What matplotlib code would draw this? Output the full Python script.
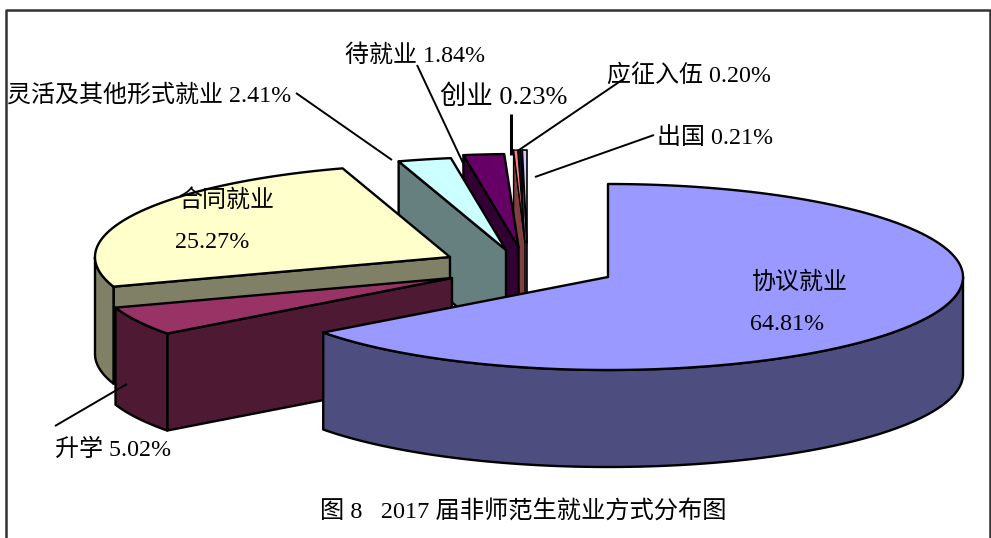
import numpy as np
import matplotlib
matplotlib.use('Agg')
import matplotlib.pyplot as plt
from matplotlib.patches import Polygon

FONT = ['Liberation Serif', 'Noto Sans CJK SC']
plt.rcParams['font.family'] = FONT

# data, clockwise from 12 o'clock
categories = ['协议就业', '升学', '合同就业', '灵活及其他形式就业', '待就业', '创业', '应征入伍', '出国']
shares = [64.81, 5.02, 25.27, 2.41, 1.84, 0.23, 0.20, 0.21]

# colours and where each exploded slice sits (figure pixels)
top_colors = ['#9999ff', '#993366', '#ffffcc', '#ccffff', '#660066', '#ff8080', '#111133', '#ccccff']
side_colors = ['#4d4d80', '#4d1933', '#808066', '#668080', '#330033', '#804040', '#0a0a1a', '#666680']
centers = [(608, 277), (452, 278), (450, 257), (506, 250), (518.5, 247), (525, 243), (524, 243), (527, 243)]
radius_scale = [1, 1, 1, 1, 1, 0.8, 0.65, 1]
line_widths = [1.7, 1.7, 1.7, 1.7, 1.7, 1.0, 1.0, 1.2]
RX, RY, DEPTH = 355, 93, 97

# label text, left x, middle y, font size
labels = [
    ('协议就业', 752, 283, 17.3), ('64.81%', 750, 325, 17.3),
    ('合同就业', 178, 200, 17.3), ('25.27%', 175, 243, 17.3),
    ('升学 5.02%', 55, 450, 17.3),
    ('灵活及其他形式就业 2.41%', 7, 95, 17.3),
    ('待就业 1.84%', 345, 55, 17.3),
    ('创业 0.23%', 440, 97, 19),
    ('应征入伍 0.20%', 607, 75, 17.3),
    ('出国 0.21%', 657, 138, 17.3),
]
leaders = [
    ((55, 426), (127, 384), 1.4),
    ((296, 93), (392, 160), 1.4),
    ((417, 65), (463, 163), 1.4),
    ((510.5, 114), (510.5, 155), 2.2),
    ((625, 78), (519, 150), 1.4),
    ((654, 135), (535, 177), 1.4),
]
TITLE = '图 8   2017 届非师范生就业方式分布图'


def arc(cx, cy, rx, t0, t1, drop=0):
    t = np.radians(np.linspace(t0, t1, max(2, int((t1 - t0) * 2) + 2)))
    return np.column_stack([cx + rx * np.sin(t), cy - RY * np.cos(t) + drop])


def draw_slice(ax, i, t0, t1):
    cx, cy = centers[i]
    rx = RX * radius_scale[i]
    side, top = side_colors[i], top_colors[i]
    kw = dict(edgecolor='black', linewidth=line_widths[i], joinstyle='round')
    # cut faces, only the ones turned towards the viewer
    for t, visible in ((t0, np.sin(np.radians(t0)) < -1e-6), (t1, np.sin(np.radians(t1)) > 1e-6)):
        if visible:
            edge = arc(cx, cy, rx, t, t)[0]
            ax.add_patch(Polygon([(cx, cy), edge, edge + (0, DEPTH), (cx, cy + DEPTH)], facecolor=side, **kw))
    # outer wall, front half only
    a, b = max(t0, 90), min(t1, 270)
    if a < b:
        wall = np.vstack([arc(cx, cy, rx, a, b), arc(cx, cy, rx, a, b, DEPTH)[::-1]])
        ax.add_patch(Polygon(wall, facecolor=side, **kw))
    face = np.vstack([[(cx, cy)], arc(cx, cy, rx, t0, t1)])
    ax.add_patch(Polygon(face, facecolor=top, **kw))


fig = plt.figure(figsize=(9.91, 5.38), dpi=100)
ax = fig.add_axes([0, 0, 1, 1])
ax.set_xlim(0, 991)
ax.set_ylim(538, 0)
ax.axis('off')

# frame has no bottom edge
ax.plot([6, 6, 990, 990], [538, 10, 10, 538], color='#333333', lw=1.8)

edges = np.concatenate([[0], np.cumsum(shares)]) * 360 / sum(shares)
# back to front
for i in reversed(range(len(shares))):
    draw_slice(ax, i, edges[i], edges[i + 1])

for start, end, lw in leaders:
    ax.plot([start[0], end[0]], [start[1], end[1]], color='black', lw=lw, solid_capstyle='butt')

for text, x, y, size in labels:
    ax.text(x, y, text, fontsize=size, ha='left', va='center', color='black')
ax.text(320, 512, TITLE, fontsize=17.5, ha='left', va='center', color='black')

fig.savefig('out.png', dpi=100)
